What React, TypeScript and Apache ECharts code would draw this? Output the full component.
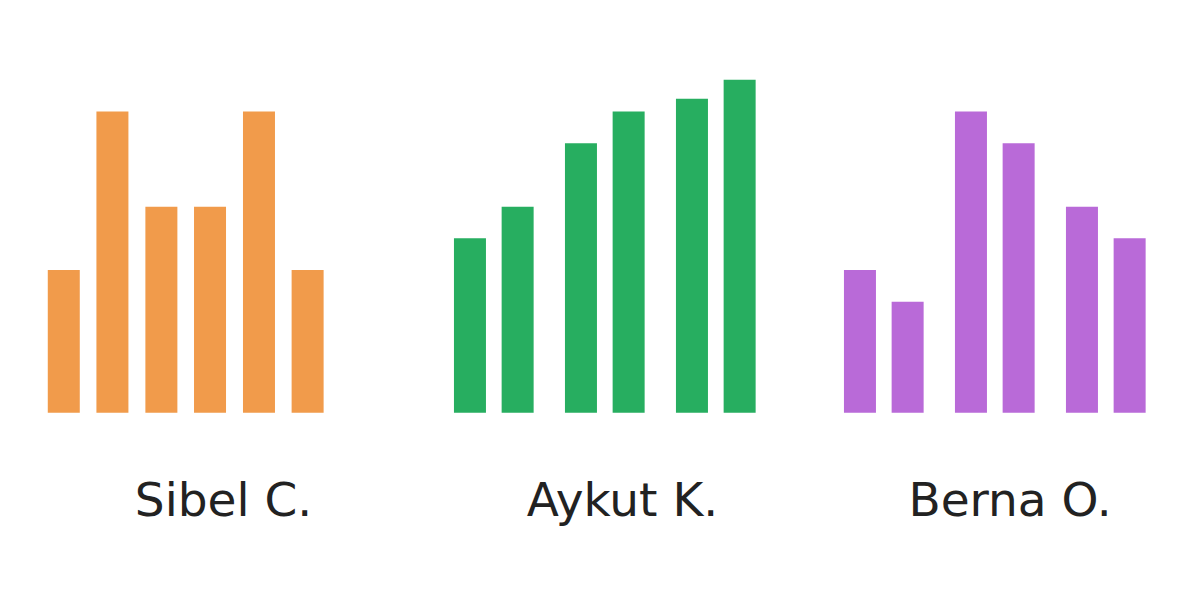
import React, { useEffect, useRef } from "react";
import * as echarts from "echarts";

// Data
const people = ["Sibel C.", "Aykut K.", "Berna O."];
const pairCategories = ["1", "2", "3"];
const sibelValues = [45, 95, 65, 65, 95, 45];
const aykutValues = [55, 65, 85, 95, 99, 105];
const bernaValues = [45, 35, 95, 85, 65, 55];
const colors = ["#F19B4B", "#27AE60", "#B96AD8"];

const W = 1193;
const H = 615;

export default function App() {
  const ref = useRef<HTMLDivElement>(null);
  useEffect(() => {
    if (!ref.current) return;
    const chart = echarts.init(ref.current, null, { renderer: "svg" });
    const all = [sibelValues, aykutValues, bernaValues];
    const grids = [
      { left: 39.3, width: 292.8, barGap: "52%" },
      { left: 438.3, width: 333, barGap: "49%" },
      { left: 828.3, width: 333, barGap: "49%" },
    ];
    const labelCenters = [223.5, 622.5, 1010];
    const series: any[] = [];
    all.forEach((vals, gi) => {
      const even = vals.filter((_, i) => i % 2 === 0);
      const odd = vals.filter((_, i) => i % 2 === 1);
      [even, odd].forEach((d, k) => {
        series.push({
          type: "bar",
          name: people[gi] + "-" + k,
          xAxisIndex: gi,
          yAxisIndex: gi,
          data: d,
          barWidth: 32,
          barGap: grids[gi].barGap,
          itemStyle: { color: colors[gi] },
          emphasis: { disabled: true },
        });
      });
    });
    chart.setOption({
      animation: false,
      backgroundColor: "#ffffff",
      grid: grids.map((g) => ({
        left: g.left,
        width: g.width,
        top: 64,
        bottom: H - 412.7,
        containLabel: false,
      })),
      xAxis: grids.map((_, i) => ({
        type: "category",
        gridIndex: i,
        data: pairCategories,
        show: false,
      })),
      yAxis: grids.map((_, i) => ({
        type: "value",
        gridIndex: i,
        min: 0,
        max: 110,
        show: false,
      })),
      series,
      graphic: people.map((p, i) => ({
        type: "text",
        x: labelCenters[i],
        y: 499,
        style: {
          text: p,
          fill: "#222222",
          font: '400 47px "DejaVu Sans"',
          textAlign: "center",
          textVerticalAlign: "middle",
        },
      })),
    });
    return () => chart.dispose();
  }, []);
  return (
    <div
      ref={ref}
      style={{ position: "fixed", left: 0, top: 0, width: W, height: H }}
    />
  );
}
